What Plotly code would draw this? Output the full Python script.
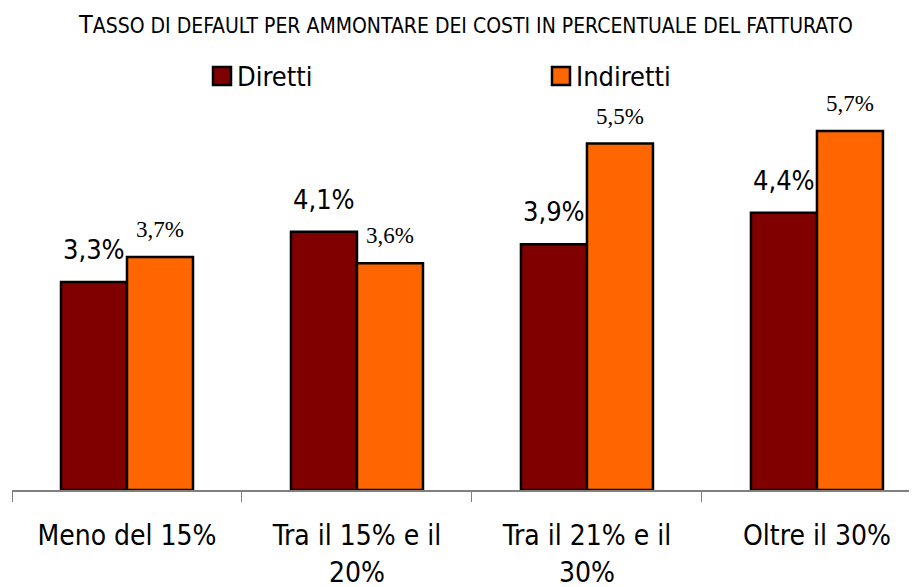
import plotly.graph_objects as go

categories = ["Meno del 15%", "Tra il 15% e il<br>20%", "Tra il 21% e il<br>30%", "Oltre il 30%"]
diretti = [3.3, 4.1, 3.9, 4.4]
indiretti = [3.7, 3.6, 5.5, 5.7]
series_names = ["Diretti", "Indiretti"]
colors = ["#800000", "#FF6600"]

W, H = 917, 587
OFF = 8  # page body margin: the figure is drawn 8px in from the corner
ML, MR, MT, MB = 4, 8, 92, 105
SANS = "DejaVu Sans Condensed, Liberation Sans Narrow, DejaVu Sans, sans-serif"
SERIF = "Liberation Serif, Times New Roman, serif"


def fmt(v):
    return ("%.1f%%" % v).replace(".", ",")


def px_x(px):
    return (px - OFF - ML) / (W - ML - MR)


def px_y(py):
    return (H - MB - (py - OFF)) / (H - MT - MB)


fig = go.Figure()
for name, vals, col in zip(series_names, [diretti, indiretti], colors):
    fig.add_trace(go.Bar(
        x=categories, y=vals, name=name,
        marker=dict(color=col, line=dict(color="black", width=2.5)),
        showlegend=False,
    ))

annotations = []
for cat, v in zip(categories, diretti):
    annotations.append(dict(
        x=cat, y=v, text=fmt(v), showarrow=False, xshift=-33, yshift=15,
        yanchor="bottom", font=dict(family=SANS, size=27, color="black"),
    ))
for cat, v in zip(categories, indiretti):
    annotations.append(dict(
        x=cat, y=v, text=fmt(v), showarrow=False, xshift=33, yshift=13,
        yanchor="bottom", font=dict(family=SERIF, size=23, color="black"),
    ))

# hand-drawn legend (larger squares than plotly's legend icons)
shapes = []
for name, col, sq_x in zip(series_names, colors, [213, 552]):
    shapes.append(dict(
        type="rect", xref="paper", yref="paper",
        x0=px_x(sq_x), x1=px_x(sq_x + 18), y0=px_y(85), y1=px_y(67),
        fillcolor=col, line=dict(color="black", width=2.5),
    ))
    annotations.append(dict(
        xref="paper", yref="paper", x=px_x(sq_x + 22), y=px_y(76),
        xanchor="left", yanchor="middle", showarrow=False, text=name,
        font=dict(family=SANS, size=27, color="black"),
    ))

fig.update_layout(
    width=W, height=H,
    margin=dict(l=ML, r=MR, t=MT, b=MB, autoexpand=False),
    paper_bgcolor="white", plot_bgcolor="white",
    barmode="group", bargap=0.426, bargroupgap=0,
    title=dict(
        text="<span style='font-size:25px'>T</span>ASSO DI DEFAULT PER AMMONTARE DEI COSTI IN PERCENTUALE DEL FATTURATO",
        font=dict(family=SANS, size=21, color="black"),
        xref="container", x=(466 - OFF) / W, xanchor="center",
        yref="container", y=1 - 10 / H, yanchor="top",
    ),
    xaxis=dict(
        type="category", range=[-0.5, 3.435], automargin=False,
        showline=True, linecolor="#808080", linewidth=1.5,
        ticks="outside", tickson="boundaries", ticklen=10, tickcolor="#808080",
        tickfont=dict(family=SANS, size=28, color="black"),
        ticklabelstandoff=20, showgrid=False,
    ),
    yaxis=dict(range=[0, 390 / 63], visible=False, showgrid=False,
               zeroline=False, automargin=False),
    annotations=annotations,
    shapes=shapes,
)

fig.write_html("out.html")
